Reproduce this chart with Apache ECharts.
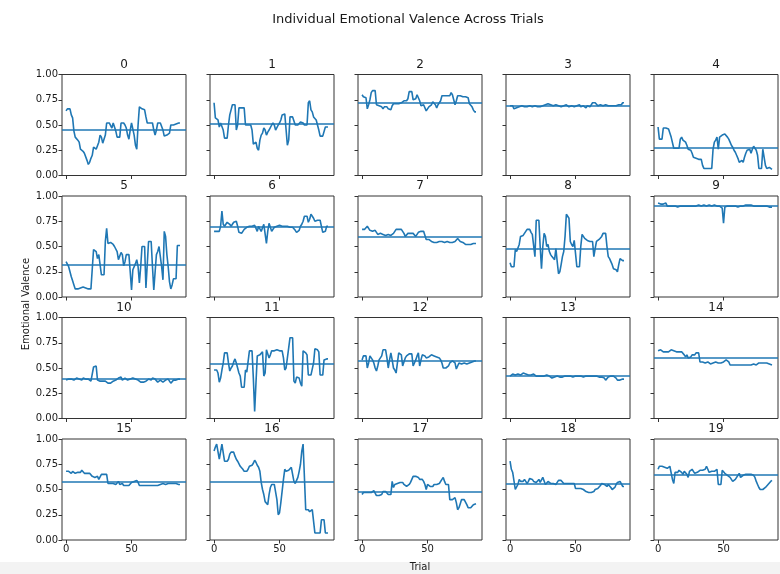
<!DOCTYPE html>
<html><head><meta charset="utf-8">
<script src="https://cdn.jsdelivr.net/npm/echarts@6/dist/echarts.min.js"></script>
<style>html,body{margin:0;padding:0;background:#fff}#c{width:780px;height:574px}</style>
</head><body><div id="c"></div>
<script>
const chartTitle = 'Individual Emotional Valence Across Trials';
const xAxisLabel = 'Trial';
const yAxisLabel = 'Emotional Valence';
const xTicks = [0, 50];
const yTicks = [0, 0.25, 0.5, 0.75, 1.0];
const panelNames = ['0','1','2','3','4','5','6','7','8','9','10','11','12','13','14','15','16','17','18','19'];
const means = [0.445, 0.51, 0.72, 0.69, 0.265, 0.32, 0.70, 0.60, 0.48, 0.895, 0.39, 0.535, 0.575, 0.42, 0.60, 0.585, 0.585, 0.48, 0.555, 0.645];

const p0 = [0.64,0.66,0.66,0.66,0.60,0.57,0.44,0.38,0.37,0.35, 0.33,0.26,0.25,0.24,0.22,0.22,0.15,0.11,0.13,0.17, 0.20,0.28,0.28,0.26,0.25,0.33,0.40,0.38,0.32,0.32, 0.40,0.52,0.52,0.52,0.52,0.47,0.52,0.52,0.44,0.38, 0.38,0.38,0.52,0.52,0.52,0.50,0.47,0.40,0.36,0.45, 0.52,0.52,0.40,0.30,0.26,0.50,0.68,0.67,0.66,0.65, 0.65,0.58,0.52,0.52,0.52,0.52,0.52,0.45,0.40,0.45, 0.52,0.52,0.52,0.52,0.45,0.39,0.39,0.40,0.40,0.42, 0.50,0.50,0.50,0.51,0.51,0.51,0.52,0.52];
const p1 = [0.72,0.57,0.56,0.55,0.48,0.52,0.52,0.45,0.37,0.37, 0.37,0.50,0.60,0.65,0.70,0.70,0.70,0.45,0.50,0.67, 0.67,0.67,0.67,0.67,0.50,0.50,0.50,0.50,0.50,0.45, 0.31,0.32,0.33,0.27,0.25,0.35,0.40,0.42,0.47,0.45, 0.40,0.43,0.45,0.45,0.50,0.52,0.50,0.45,0.45,0.50, 0.52,0.55,0.60,0.60,0.61,0.61,0.30,0.35,0.58,0.58, 0.58,0.58,0.50,0.50,0.50,0.50,0.53,0.53,0.52,0.50, 0.50,0.50,0.72,0.74,0.65,0.63,0.58,0.57,0.55,0.50, 0.45,0.39,0.39,0.39,0.39,0.48,0.48,0.48];
const p2 = [0.80,0.78,0.78,0.77,0.66,0.70,0.75,0.82,0.84,0.84, 0.84,0.70,0.69,0.69,0.70,0.68,0.66,0.68,0.69,0.68, 0.66,0.65,0.65,0.69,0.71,0.70,0.71,0.72,0.71,0.72, 0.72,0.73,0.74,0.75,0.74,0.76,0.83,0.83,0.83,0.75, 0.74,0.76,0.80,0.80,0.74,0.69,0.70,0.70,0.70,0.64, 0.66,0.68,0.68,0.70,0.73,0.74,0.70,0.67,0.70,0.70, 0.74,0.79,0.79,0.79,0.79,0.79,0.79,0.79,0.82,0.80, 0.75,0.70,0.74,0.79,0.79,0.79,0.79,0.78,0.78,0.78, 0.78,0.77,0.71,0.70,0.68,0.65,0.63,0.63];
const p3 = [0.69,0.69,0.69,0.66,0.66,0.67,0.68,0.68,0.68,0.69, 0.68,0.68,0.69,0.68,0.69,0.69,0.68,0.68,0.69,0.69, 0.69,0.68,0.68,0.68,0.68,0.69,0.69,0.70,0.70,0.71, 0.70,0.70,0.69,0.69,0.70,0.70,0.69,0.69,0.68,0.68, 0.69,0.69,0.69,0.70,0.70,0.68,0.69,0.69,0.69,0.68, 0.68,0.69,0.69,0.70,0.68,0.67,0.69,0.70,0.67,0.69, 0.69,0.68,0.69,0.72,0.72,0.72,0.72,0.69,0.69,0.70, 0.70,0.69,0.69,0.70,0.69,0.69,0.70,0.69,0.69,0.69, 0.69,0.69,0.69,0.70,0.70,0.70,0.72,0.72];
const p4 = [0.48,0.36,0.35,0.36,0.47,0.47,0.47,0.47,0.46,0.42, 0.38,0.37,0.27,0.27,0.27,0.27,0.27,0.36,0.38,0.35, 0.34,0.33,0.30,0.26,0.26,0.25,0.22,0.18,0.17,0.17, 0.17,0.16,0.16,0.16,0.10,0.07,0.07,0.07,0.07,0.07, 0.07,0.07,0.26,0.33,0.35,0.38,0.26,0.38,0.38,0.40, 0.41,0.41,0.40,0.38,0.36,0.33,0.30,0.28,0.25,0.23, 0.20,0.17,0.13,0.12,0.15,0.13,0.18,0.22,0.25,0.24, 0.26,0.22,0.26,0.29,0.29,0.25,0.20,0.07,0.07,0.07, 0.26,0.26,0.10,0.07,0.08,0.08,0.07,0.06];
const p5 = [0.35,0.34,0.30,0.30,0.20,0.16,0.12,0.08,0.08,0.08, 0.08,0.09,0.08,0.10,0.10,0.09,0.08,0.08,0.08,0.08, 0.08,0.47,0.47,0.45,0.38,0.42,0.42,0.22,0.22,0.22, 0.55,0.68,0.53,0.53,0.54,0.54,0.52,0.50,0.50,0.45, 0.37,0.37,0.44,0.42,0.31,0.35,0.42,0.42,0.42,0.25, 0.07,0.27,0.28,0.33,0.37,0.30,0.14,0.30,0.50,0.50, 0.50,0.09,0.09,0.55,0.55,0.55,0.30,0.07,0.07,0.42, 0.45,0.50,0.50,0.30,0.17,0.65,0.60,0.42,0.30,0.15, 0.08,0.12,0.18,0.18,0.18,0.51,0.51,0.51];
const p6 = [0.65,0.65,0.65,0.65,0.65,0.70,0.85,0.72,0.70,0.72, 0.74,0.74,0.72,0.70,0.72,0.74,0.75,0.75,0.70,0.64, 0.63,0.63,0.65,0.67,0.68,0.69,0.69,0.70,0.70,0.70, 0.70,0.71,0.71,0.65,0.70,0.70,0.65,0.64,0.72,0.72, 0.53,0.65,0.73,0.74,0.65,0.66,0.69,0.70,0.70,0.70, 0.71,0.71,0.70,0.70,0.70,0.70,0.70,0.70,0.69,0.68, 0.69,0.68,0.66,0.64,0.64,0.66,0.70,0.72,0.75,0.80, 0.80,0.80,0.74,0.77,0.82,0.82,0.78,0.75,0.76,0.76, 0.76,0.76,0.70,0.64,0.64,0.65,0.70,0.70];
const p7 = [0.67,0.66,0.67,0.67,0.70,0.69,0.66,0.65,0.65,0.66, 0.66,0.64,0.62,0.62,0.63,0.64,0.62,0.62,0.61,0.62, 0.62,0.63,0.61,0.61,0.63,0.65,0.67,0.67,0.67,0.67, 0.67,0.66,0.63,0.60,0.60,0.63,0.63,0.63,0.63,0.63, 0.62,0.60,0.61,0.64,0.64,0.65,0.65,0.65,0.64,0.57, 0.58,0.57,0.58,0.55,0.55,0.54,0.55,0.54,0.55,0.55, 0.54,0.55,0.55,0.54,0.55,0.55,0.54,0.54,0.55,0.54, 0.55,0.55,0.55,0.58,0.57,0.55,0.55,0.54,0.53,0.52, 0.52,0.52,0.52,0.52,0.52,0.53,0.53,0.53];
const p8 = [0.34,0.30,0.30,0.30,0.47,0.45,0.45,0.52,0.60,0.60, 0.61,0.62,0.65,0.67,0.67,0.67,0.64,0.62,0.62,0.40, 0.76,0.76,0.76,0.50,0.28,0.50,0.63,0.60,0.50,0.52, 0.45,0.42,0.40,0.40,0.37,0.48,0.35,0.23,0.25,0.32, 0.40,0.45,0.60,0.82,0.80,0.78,0.55,0.52,0.50,0.56, 0.57,0.30,0.30,0.30,0.50,0.62,0.60,0.58,0.57,0.56, 0.55,0.55,0.55,0.55,0.40,0.48,0.55,0.56,0.57,0.58, 0.60,0.63,0.63,0.63,0.50,0.40,0.38,0.35,0.32,0.28, 0.28,0.27,0.25,0.32,0.38,0.37,0.36,0.36];
const p9 = [0.93,0.93,0.92,0.92,0.92,0.92,0.93,0.90,0.90,0.90, 0.90,0.90,0.90,0.90,0.90,0.89,0.89,0.90,0.90,0.90, 0.90,0.90,0.90,0.90,0.90,0.90,0.90,0.90,0.90,0.90, 0.90,0.91,0.91,0.90,0.90,0.91,0.91,0.90,0.91,0.91, 0.91,0.90,0.91,0.91,0.90,0.90,0.90,0.90,0.89,0.88, 0.73,0.89,0.90,0.90,0.90,0.90,0.90,0.90,0.90,0.90, 0.89,0.89,0.90,0.90,0.90,0.90,0.90,0.91,0.91,0.91, 0.91,0.91,0.90,0.90,0.90,0.90,0.90,0.90,0.90,0.90, 0.90,0.90,0.90,0.90,0.90,0.89,0.89,0.89];
const p10 = [0.38,0.39,0.39,0.40,0.39,0.39,0.38,0.39,0.40,0.40, 0.39,0.39,0.38,0.40,0.40,0.39,0.40,0.39,0.38,0.37, 0.36,0.51,0.52,0.52,0.38,0.37,0.37,0.37,0.37,0.37, 0.37,0.36,0.35,0.35,0.35,0.36,0.37,0.38,0.38,0.38, 0.40,0.40,0.41,0.38,0.37,0.40,0.40,0.38,0.38,0.39, 0.40,0.40,0.41,0.39,0.38,0.38,0.37,0.36,0.36,0.36, 0.36,0.37,0.38,0.39,0.38,0.38,0.40,0.40,0.39,0.38, 0.36,0.37,0.38,0.37,0.36,0.37,0.38,0.38,0.39,0.38, 0.35,0.36,0.38,0.38,0.38,0.39,0.39,0.39];
const p11 = [0.48,0.48,0.48,0.45,0.36,0.40,0.48,0.55,0.65,0.65, 0.65,0.55,0.47,0.50,0.52,0.56,0.59,0.55,0.50,0.45, 0.42,0.31,0.31,0.31,0.48,0.46,0.45,0.67,0.67,0.67, 0.40,0.07,0.35,0.62,0.62,0.63,0.64,0.66,0.42,0.45, 0.68,0.68,0.60,0.63,0.67,0.67,0.67,0.68,0.68,0.67, 0.67,0.68,0.67,0.60,0.48,0.50,0.60,0.70,0.80,0.80, 0.80,0.37,0.35,0.41,0.41,0.40,0.35,0.32,0.67,0.66, 0.65,0.63,0.43,0.43,0.43,0.43,0.55,0.69,0.69,0.68, 0.66,0.43,0.43,0.43,0.58,0.58,0.59,0.59];
const p12 = [0.58,0.62,0.62,0.62,0.50,0.55,0.62,0.61,0.58,0.55, 0.50,0.47,0.52,0.58,0.58,0.62,0.68,0.68,0.68,0.60, 0.50,0.58,0.65,0.58,0.50,0.48,0.45,0.55,0.65,0.64, 0.63,0.52,0.56,0.60,0.62,0.63,0.64,0.65,0.64,0.52, 0.55,0.58,0.62,0.65,0.52,0.58,0.63,0.63,0.62,0.60, 0.61,0.61,0.62,0.63,0.63,0.62,0.61,0.61,0.60,0.60, 0.58,0.55,0.50,0.50,0.50,0.50,0.52,0.55,0.56,0.57, 0.57,0.55,0.49,0.48,0.55,0.54,0.54,0.54,0.55,0.54, 0.54,0.55,0.55,0.55,0.56,0.56,0.57,0.57];
const p13 = [0.42,0.43,0.44,0.43,0.43,0.44,0.44,0.43,0.43,0.44, 0.45,0.45,0.44,0.43,0.43,0.43,0.43,0.44,0.44,0.43, 0.42,0.42,0.42,0.42,0.42,0.42,0.42,0.42,0.43,0.43, 0.42,0.41,0.40,0.40,0.41,0.41,0.42,0.41,0.41,0.41, 0.41,0.42,0.42,0.41,0.42,0.42,0.42,0.42,0.41,0.41, 0.42,0.42,0.42,0.42,0.42,0.42,0.41,0.41,0.42,0.42, 0.42,0.42,0.42,0.42,0.42,0.42,0.42,0.41,0.41,0.41, 0.41,0.41,0.40,0.38,0.38,0.41,0.42,0.42,0.42,0.42, 0.41,0.40,0.38,0.38,0.38,0.39,0.39,0.39];
const p14 = [0.67,0.68,0.68,0.67,0.66,0.67,0.66,0.67,0.66,0.67, 0.68,0.68,0.67,0.66,0.66,0.66,0.66,0.66,0.66,0.65, 0.63,0.61,0.63,0.60,0.60,0.61,0.63,0.63,0.63,0.65, 0.65,0.65,0.56,0.57,0.56,0.55,0.55,0.56,0.56,0.55, 0.54,0.55,0.55,0.56,0.56,0.55,0.55,0.55,0.55,0.55, 0.56,0.57,0.58,0.58,0.56,0.53,0.53,0.53,0.53,0.53, 0.53,0.53,0.53,0.53,0.53,0.53,0.53,0.53,0.53,0.53, 0.53,0.53,0.53,0.54,0.54,0.53,0.54,0.55,0.55,0.55, 0.55,0.55,0.56,0.55,0.55,0.54,0.53,0.53];
const p15 = [0.68,0.68,0.68,0.67,0.66,0.68,0.67,0.66,0.67,0.67, 0.66,0.67,0.69,0.68,0.66,0.66,0.66,0.66,0.66,0.66, 0.63,0.62,0.62,0.61,0.63,0.60,0.60,0.65,0.65,0.65, 0.65,0.65,0.56,0.56,0.56,0.56,0.56,0.56,0.55,0.56, 0.58,0.55,0.56,0.56,0.54,0.55,0.54,0.54,0.54,0.55, 0.57,0.57,0.58,0.59,0.59,0.57,0.54,0.54,0.54,0.54, 0.54,0.54,0.54,0.54,0.54,0.54,0.54,0.54,0.54,0.54, 0.54,0.55,0.55,0.55,0.56,0.55,0.55,0.55,0.56,0.56, 0.56,0.56,0.56,0.57,0.56,0.55,0.55,0.55];
const p16 = [0.88,0.92,0.95,0.95,0.80,0.80,0.95,0.95,0.78,0.78, 0.78,0.80,0.85,0.87,0.87,0.87,0.83,0.80,0.78,0.77, 0.73,0.72,0.70,0.68,0.67,0.68,0.70,0.73,0.74,0.74, 0.76,0.79,0.77,0.74,0.72,0.68,0.57,0.50,0.45,0.38, 0.37,0.35,0.45,0.52,0.55,0.55,0.55,0.55,0.40,0.25, 0.27,0.37,0.38,0.60,0.70,0.68,0.68,0.69,0.70,0.72, 0.73,0.58,0.56,0.56,0.62,0.68,0.75,0.88,0.95,0.95, 0.30,0.30,0.30,0.28,0.27,0.30,0.30,0.07,0.07,0.07, 0.07,0.07,0.20,0.20,0.20,0.07,0.07,0.07];
const p17 = [0.45,0.47,0.47,0.47,0.47,0.47,0.47,0.47,0.48,0.49, 0.49,0.44,0.44,0.44,0.45,0.45,0.48,0.48,0.48,0.48, 0.45,0.45,0.45,0.58,0.52,0.55,0.56,0.56,0.56,0.57, 0.58,0.57,0.55,0.55,0.53,0.52,0.55,0.57,0.60,0.63, 0.63,0.63,0.63,0.62,0.60,0.60,0.60,0.58,0.55,0.50, 0.55,0.54,0.53,0.52,0.53,0.55,0.55,0.55,0.55,0.56, 0.57,0.60,0.62,0.58,0.55,0.55,0.55,0.40,0.40,0.40, 0.40,0.42,0.37,0.30,0.32,0.36,0.40,0.40,0.40,0.40, 0.35,0.32,0.32,0.32,0.32,0.35,0.36,0.36];
const p18 = [0.78,0.70,0.67,0.66,0.50,0.50,0.55,0.60,0.58,0.57, 0.58,0.60,0.58,0.56,0.58,0.61,0.61,0.60,0.58,0.58, 0.57,0.58,0.60,0.57,0.57,0.62,0.63,0.55,0.56,0.58, 0.57,0.56,0.56,0.56,0.55,0.55,0.57,0.59,0.59,0.59, 0.58,0.56,0.56,0.56,0.56,0.56,0.56,0.56,0.56,0.56, 0.51,0.50,0.51,0.52,0.51,0.50,0.50,0.49,0.48,0.48, 0.47,0.47,0.47,0.47,0.48,0.50,0.50,0.51,0.52,0.54, 0.56,0.56,0.55,0.55,0.53,0.55,0.56,0.52,0.50,0.50, 0.52,0.55,0.57,0.58,0.58,0.57,0.53,0.53];
const p19 = [0.70,0.73,0.73,0.73,0.73,0.72,0.71,0.71,0.72,0.73, 0.73,0.60,0.56,0.67,0.67,0.67,0.69,0.68,0.67,0.65, 0.68,0.68,0.65,0.62,0.68,0.68,0.70,0.68,0.66,0.67, 0.67,0.68,0.69,0.70,0.69,0.69,0.70,0.73,0.70,0.67, 0.67,0.68,0.68,0.68,0.68,0.70,0.55,0.55,0.55,0.69, 0.68,0.66,0.65,0.64,0.63,0.62,0.60,0.58,0.59,0.60, 0.62,0.64,0.66,0.62,0.63,0.64,0.65,0.65,0.65,0.65, 0.65,0.65,0.65,0.64,0.62,0.58,0.55,0.52,0.50,0.49, 0.50,0.51,0.52,0.53,0.55,0.56,0.58,0.59];

const panels = [p0,p1,p2,p3,p4,p5,p6,p7,p8,p9,p10,p11,p12,p13,p14,p15,p16,p17,p18,p19];

const FONT = 'DejaVu Sans';
const TXT = '#1a1a1a';
const AX = '#333333';
const BLUE = '#1f77b4';
const GW = 124, GH = 101;

const grids = [], xAxes = [], yAxes = [], series = [], titles = [];
titles.push({
  text: chartTitle, left: 408, top: 13, padding: 0, textAlign: 'center',
  textStyle: { fontFamily: FONT, fontSize: 13, fontWeight: 'normal', color: TXT }
});
panels.forEach((vals, i) => {
  const r = Math.floor(i / 5), c = i % 5;
  const left = 62 + 148 * c, top = 74.5 + 121.5 * r;
  grids.push({ left: left, top: top, width: GW, height: GH, show: true,
    borderColor: AX, borderWidth: 1, backgroundColor: 'transparent', containLabel: false });
  titles.push({
    text: panelNames[i], left: left + GW / 2, top: top - 16, padding: 0, textAlign: 'center',
    textStyle: { fontFamily: FONT, fontSize: 12, fontWeight: 'normal', color: TXT }
  });
  xAxes.push({
    gridIndex: i, type: 'value', min: -3.1, max: 91.6,
    splitLine: { show: false },
    axisLine: { show: false, onZero: false },
    axisTick: { show: true, customValues: xTicks, length: 3.5, lineStyle: { color: AX, width: 1 } },
    axisLabel: { show: r === 3, customValues: xTicks, fontFamily: FONT, fontSize: 10, color: TXT, margin: 4 }
  });
  yAxes.push({
    gridIndex: i, type: 'value', min: 0, max: 1, interval: 0.25,
    splitLine: { show: false },
    axisLine: { show: false, onZero: false },
    axisTick: { show: true, length: 3.5, lineStyle: { color: AX, width: 1 } },
    axisLabel: { show: c === 0, fontFamily: FONT, fontSize: 10, color: TXT, margin: 4,
      formatter: v => v.toFixed(2) }
  });
  series.push({
    type: 'line', xAxisIndex: i, yAxisIndex: i,
    data: vals.map((v, k) => [k, v]),
    showSymbol: false, symbol: 'none', silent: true, animation: false,
    lineStyle: { color: BLUE, width: 1.6 }, itemStyle: { color: BLUE },
    markLine: {
      silent: true, symbol: 'none', animation: false,
      label: { show: false },
      lineStyle: { color: BLUE, width: 1.6, type: 'solid' },
      emphasis: { disabled: true },
      data: [{ yAxis: means[i] }]
    }
  });
});

const chart = echarts.init(document.getElementById('c'), null, { renderer: 'canvas' });
chart.setOption({
  backgroundColor: '#ffffff',
  animation: false,
  title: titles,
  grid: grids,
  xAxis: xAxes,
  yAxis: yAxes,
  series: series,
  graphic: [
    { type: 'rect', left: 0, top: 562, z: -10, shape: { width: 780, height: 12 }, style: { fill: '#f3f3f3' } },
    { type: 'text', x: 26, y: 304, rotation: Math.PI / 2,
      style: { text: yAxisLabel, fontFamily: FONT, fontSize: 10, fill: TXT, align: 'center', verticalAlign: 'middle' } },
    { type: 'text', x: 420, y: 567,
      style: { text: xAxisLabel, fontFamily: FONT, fontSize: 10, fill: TXT, align: 'center', verticalAlign: 'middle' } }
  ]
});
</script>
</body></html>
